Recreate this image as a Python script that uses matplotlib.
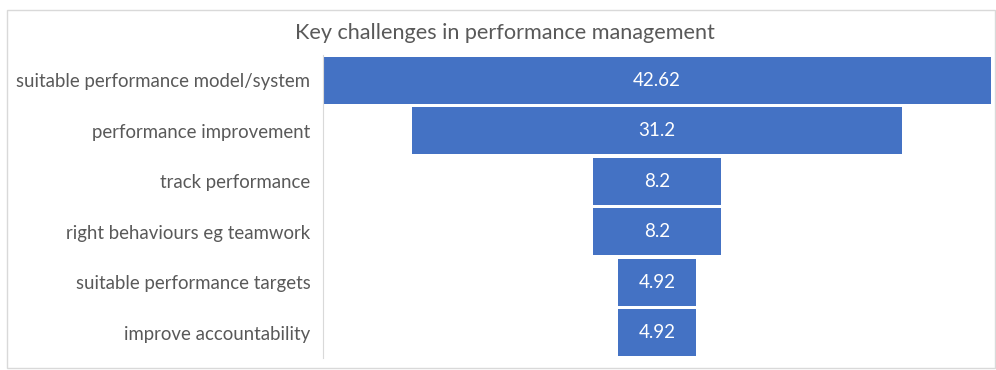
import matplotlib.pyplot as plt
from matplotlib.patches import Rectangle

categories = ["suitable performance model/system", "performance improvement",
              "track performance", "right behaviours eg teamwork",
              "suitable performance targets", "improve accountability"]
values = [42.62, 31.2, 8.2, 8.2, 4.92, 4.92]
value_labels = ["42.62", "31.2", "8.2", "8.2", "4.92", "4.92"]

plt.rcParams['font.family'] = ['Lato', 'DejaVu Sans']

fig = plt.figure(figsize=(9.96, 3.7), dpi=100)
fig.patches.append(Rectangle((7 / 996, 2 / 370), 988 / 996, 358 / 370,
                             transform=fig.transFigure, fill=False,
                             edgecolor='#d9d9d9', linewidth=1))

ax = fig.add_axes([323 / 996, 12 / 370, 668 / 996, 303 / 370])
y = list(range(len(categories)))
lefts = [-v / 2 for v in values]
ax.barh(y, values, left=lefts, height=0.93, color='#4472C4')
for yi, lab in zip(y, value_labels):
    ax.text(0, yi, lab, ha='center', va='center', color='white', fontsize=13.5)

m = max(values) / 2
ax.set_xlim(-m, m)
ax.set_ylim(len(categories) - 0.5, -0.5)
ax.set_yticks(y)
ax.set_yticklabels(categories, fontsize=13.4, color='#595959')
ax.tick_params(axis='y', length=0, pad=9)
ax.set_xticks([])
for s in ['top', 'right', 'bottom']:
    ax.spines[s].set_visible(False)
ax.spines['left'].set_color('#d9d9d9')

fig.text(505 / 996, 1 - 33 / 370, "Key challenges in performance management",
         ha='center', va='center', fontsize=15.6, color='#595959')

fig.savefig('out.png', dpi=100)
